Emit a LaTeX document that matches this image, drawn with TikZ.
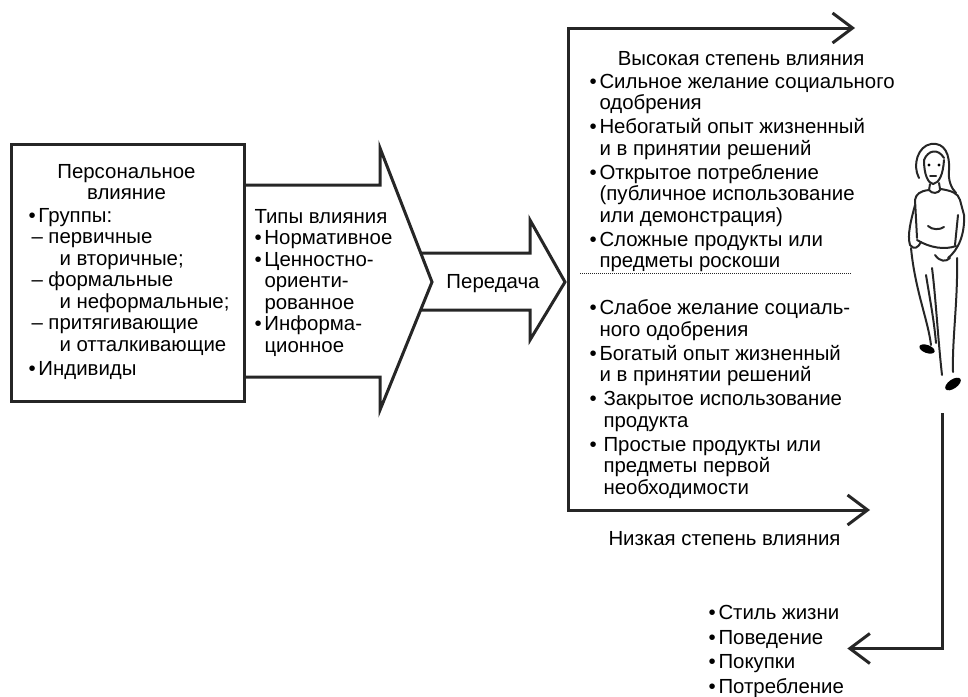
\documentclass[tikz,border=0pt]{standalone}
\usepackage{fontspec}
\setmainfont{Liberation Sans}
\usepackage{tikz}
\usetikzlibrary{arrows.meta}

\newcommand{\bul}{\makebox[10pt][l]{\textbullet}}
\newcommand{\bulw}{\makebox[14pt][l]{\textbullet}}

\begin{document}
\begin{tikzpicture}[x=1pt,y=-1pt,>={Straight Barb[length=20pt,width=30pt]},
    line width=3pt,draw=black!85,
    txt/.style={font=\fontsize{20.4}{21.5}\selectfont,inner sep=0pt,align=left},
    blk/.style={draw,fill=white,line join=miter},
    sketch/.style={line width=2pt,line cap=round,line join=round}]
  \useasboundingbox (0,0) rectangle (968,696);

  % block arrows first, the box hides their tails
  \draw[blk] (400,253) -- (530,253) -- (530,220) -- (565,282) -- (530,340)
             -- (530,310) -- (400,310) -- cycle;
  \draw[blk] (200,185) -- (380,185) -- (380,148) -- (432,282) -- (380,410)
             -- (380,377) -- (200,377) -- cycle;
  \node[blk,anchor=north west,minimum width=233,minimum height=257] (pers) at (10,143) {};

  \node[txt,align=center,anchor=north] (perstitle) at (126.5,162.5) {Персональное\\влияние};
  \node[txt,anchor=north west] (perslist) at (27,206.5)
    {\bul Группы:\\
     \hspace*{3pt}– первичные\\
     \hspace*{31pt}и вторичные;\\
     \hspace*{3pt}– формальные\\
     \hspace*{31pt}и неформальные;\\
     \hspace*{3pt}– притягивающие\\
     \hspace*{31pt}и отталкивающие\\[3pt]
     \bul Индивиды};
  \node[txt,anchor=north west] (types) at (253,207.5)
    {Типы влияния\\
     \bul Нормативное\\
     \bul Ценностно-\\
     \hspace*{10pt}ориенти-\\
     \hspace*{10pt}рованное\\
     \bul Информа-\\
     \hspace*{10pt}ционное};
  \node[txt,anchor=base] (transfer) at (493,288) {Передача};

  % frame of the influence scale
  \coordinate (hi) at (855,28);
  \coordinate (ft) at (568,28);
  \coordinate (fb) at (568,510);
  \coordinate (lo) at (870,510);
  \draw[<->,line join=miter] (hi) -- (ft) -- (fb) -- (lo);
  \draw[densely dotted,line width=1pt] (580,273) -- (852,273);

  \node[txt,anchor=base] (hightitle) at (741,65) {Высокая степень влияния};
  \node[txt,anchor=north west] (highlist) at (588,72.5)
    {\bul Сильное желание социального\\
     \hspace*{10pt}одобрения\\[2.5pt]
     \bul Небогатый опыт жизненный\\
     \hspace*{10pt}и в принятии решений\\[2.5pt]
     \bul Открытое потребление\\
     \hspace*{10pt}(публичное использование\\
     \hspace*{10pt}или демонстрация)\\[2.5pt]
     \bul Сложные продукты или\\
     \hspace*{10pt}предметы роскоши};
  \node[txt,anchor=north west] (lowlist) at (588,298.5)
    {\bul Слабое желание социаль-\\
     \hspace*{10pt}ного одобрения\\[2.5pt]
     \bul Богатый опыт жизненный\\
     \hspace*{10pt}и в принятии решений\\[2.5pt]
     \bulw Закрытое использование\\
     \hspace*{14pt}продукта\\[2.5pt]
     \bulw Простые продукты или\\
     \hspace*{14pt}предметы первой\\
     \hspace*{14pt}необходимости};
  \node[txt,anchor=base west] (lowtitle) at (607,545) {Низкая степень влияния};

  \node[txt,anchor=north west,font=\fontsize{20.4}{24.5}\selectfont] (effects) at (707,604)
    {\bul Стиль жизни\\
     \bul Поведение\\
     \bul Покупки\\
     \bul Потребление};

  % consumer
  \begin{scope}[sketch]
    \draw (919,178) .. controls (912,165) and (918,146) .. (931,144)
          .. controls (945,142) and (950,155) .. (949,170)
          .. controls (948,180) and (951,188) .. (956,193);
    \draw (924,160) .. controls (928,150) and (938,148) .. (944,158);
    \draw (924,160) .. controls (924,175) and (928,183) .. (933,184)
          .. controls (939,183) and (943,175) .. (944,160);
    \fill (929,165) circle (1.6pt) (939,165) circle (1.6pt);
    \draw (930,176) -- (936,176);
    \draw (930,184) -- (929,190) (939,183) -- (940,189);
    \draw (929,190) .. controls (932,194) and (938,194) .. (941,189);
    \draw (929,190) .. controls (920,191) and (916,194) .. (915,200) -- (917,238);
    \draw (941,189) .. controls (952,191) and (958,193) .. (960,200) -- (964,215);
    \draw (964,215) .. controls (965,235) and (958,250) .. (948,258);
    \draw (958,215) -- (955,245);
    \draw (928,226) .. controls (932,230) and (940,230) .. (944,227);
    \draw (915,205) .. controls (911,220) and (907,235) .. (910,245)
          .. controls (914,250) and (918,248) .. (921,242);
    \draw (917,240) .. controls (930,248) and (945,250) .. (956,246);
    \draw (935,255) .. controls (940,262) and (946,262) .. (950,258);
    \draw (911,248) .. controls (915,290) and (928,320) .. (931,345);
    \draw (926,275) .. controls (930,300) and (934,320) .. (936,343);
    \draw (932,268) .. controls (936,300) and (938,340) .. (942,375);
    \draw (957,258) .. controls (958,300) and (952,340) .. (953,372);
    \fill[rotate around={-20:(927,349)}] (927,349) ellipse (8pt and 4pt);
    \fill[rotate around={35:(953,384)}] (953,384) ellipse (9pt and 4.5pt);
  \end{scope}

  \coordinate (figout) at (942,413);
  \draw[->,line join=miter] (figout) |- ([xshift=2pt,yshift=3pt]effects.east);
\end{tikzpicture}
\end{document}
